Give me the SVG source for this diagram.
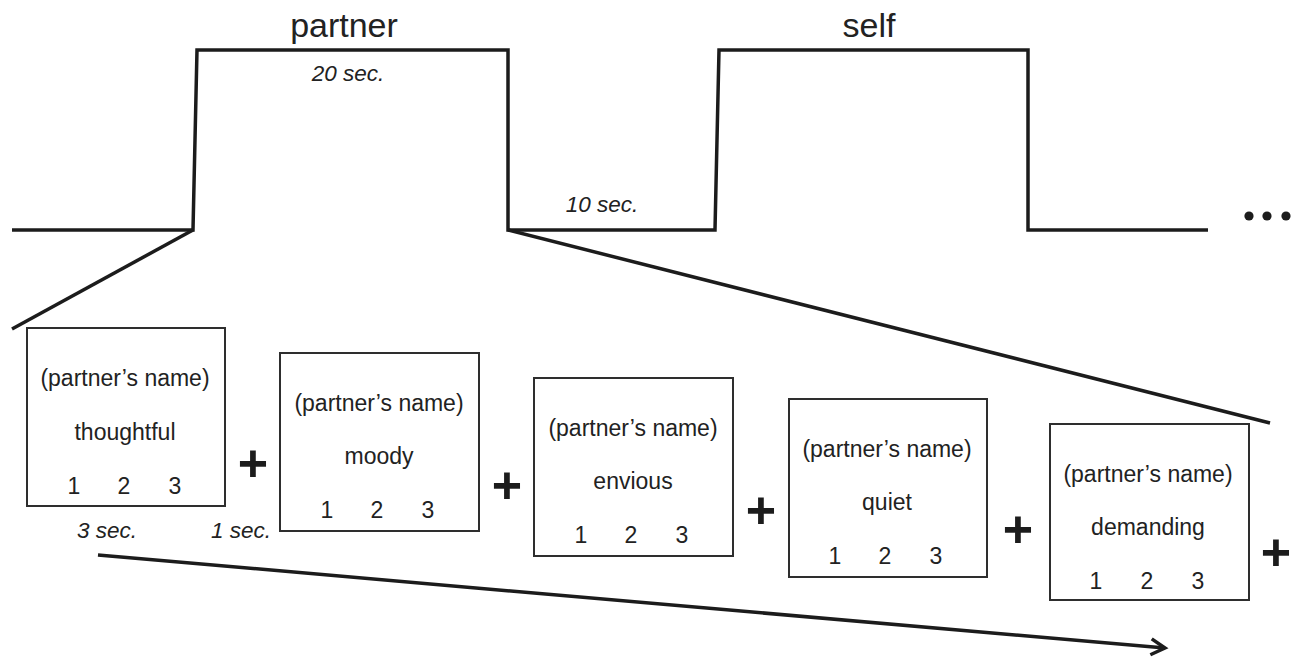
<svg xmlns="http://www.w3.org/2000/svg" width="1292" height="658" viewBox="0 0 1292 658">
  <style>
    .wave { fill: none; stroke: #1c1c1c; stroke-width: 3.5; stroke-linejoin: miter; }
    .link { fill: none; stroke: #1c1c1c; stroke-width: 3.5; }
    .card { fill: #ffffff; stroke: #2e2e2e; stroke-width: 2; }
    .txt { font-family: "Liberation Sans", Arial, sans-serif; fill: #222; text-anchor: middle; }
    .cond { font-size: 34px; }
    .dur { font-size: 22.5px; font-style: italic; }
    .card-txt { font-size: 23px; }
    .plus { font-size: 52px; font-weight: bold; fill: #1c1c1c; }
  </style>
  <defs>
    <marker id="chevron" viewBox="0 0 20 20" refX="16" refY="10" markerWidth="20" markerHeight="20" markerUnits="userSpaceOnUse" orient="auto">
      <path d="M2,2 L16,10 L2,18" fill="none" stroke="#1c1c1c" stroke-width="3.5"/>
    </marker>
  </defs>
  <rect width="1292" height="658" fill="#ffffff"/>

  <!-- block timeline -->
  <g id="timeline">
    <path class="wave" d="M12,230 L193,230 L197,50 L508,50 L508,230 L715,230 L719,50 L1028,50 L1028,230 L1208,230"/>
    <text class="txt cond" x="344" y="37">partner</text>
    <text class="txt cond" x="869" y="37">self</text>
    <text class="txt dur" x="348" y="81">20 sec.</text>
    <text class="txt dur" x="602" y="212">10 sec.</text>
    <circle cx="1249" cy="216" r="4.6" fill="#1c1c1c"/>
    <circle cx="1267" cy="216" r="4.6" fill="#1c1c1c"/>
    <circle cx="1286" cy="216" r="4.6" fill="#1c1c1c"/>
  </g>

  <!-- zoom lines and time arrow -->
  <g id="connectors">
    <line class="link" x1="193" y1="230" x2="12" y2="329"/>
    <line class="link" x1="508" y1="230" x2="1270" y2="423"/>
    <line class="link" x1="98" y1="555" x2="1165" y2="648" marker-end="url(#chevron)"/>
  </g>

  <!-- trial cards -->
  <g id="trial-1">
    <rect class="card" x="27" y="328" width="198" height="178"/>
    <text class="txt card-txt" x="125" y="386">(partner’s name)</text>
    <text class="txt card-txt" x="125" y="440">thoughtful</text>
    <text class="txt card-txt" x="74" y="494">1</text>
    <text class="txt card-txt" x="124" y="494">2</text>
    <text class="txt card-txt" x="175" y="494">3</text>
  </g>
  <g id="trial-2">
    <rect class="card" x="280" y="353" width="199" height="178"/>
    <text class="txt card-txt" x="379" y="411">(partner’s name)</text>
    <text class="txt card-txt" x="379" y="464">moody</text>
    <text class="txt card-txt" x="327" y="518">1</text>
    <text class="txt card-txt" x="377" y="518">2</text>
    <text class="txt card-txt" x="428" y="518">3</text>
  </g>
  <g id="trial-3">
    <rect class="card" x="534" y="378" width="199" height="178"/>
    <text class="txt card-txt" x="633" y="436">(partner’s name)</text>
    <text class="txt card-txt" x="633" y="489">envious</text>
    <text class="txt card-txt" x="581" y="543">1</text>
    <text class="txt card-txt" x="631" y="543">2</text>
    <text class="txt card-txt" x="682" y="543">3</text>
  </g>
  <g id="trial-4">
    <rect class="card" x="789" y="399" width="198" height="178"/>
    <text class="txt card-txt" x="887" y="457">(partner’s name)</text>
    <text class="txt card-txt" x="887" y="510">quiet</text>
    <text class="txt card-txt" x="835" y="564">1</text>
    <text class="txt card-txt" x="885" y="564">2</text>
    <text class="txt card-txt" x="936" y="564">3</text>
  </g>
  <g id="trial-5">
    <rect class="card" x="1050" y="424" width="199" height="176"/>
    <text class="txt card-txt" x="1148" y="482">(partner’s name)</text>
    <text class="txt card-txt" x="1148" y="535">demanding</text>
    <text class="txt card-txt" x="1096" y="589">1</text>
    <text class="txt card-txt" x="1147" y="589">2</text>
    <text class="txt card-txt" x="1198" y="589">3</text>
  </g>

  <!-- fixation crosses -->
  <g id="fixations">
    <text class="txt plus" x="253" y="481">+</text>
    <text class="txt plus" x="507" y="503">+</text>
    <text class="txt plus" x="761" y="528">+</text>
    <text class="txt plus" x="1018" y="547">+</text>
    <text class="txt plus" x="1276" y="570">+</text>
  </g>

  <!-- durations -->
  <g id="durations">
    <text class="txt dur" x="107" y="538">3 sec.</text>
    <text class="txt dur" x="241" y="538">1 sec.</text>
  </g>
</svg>
